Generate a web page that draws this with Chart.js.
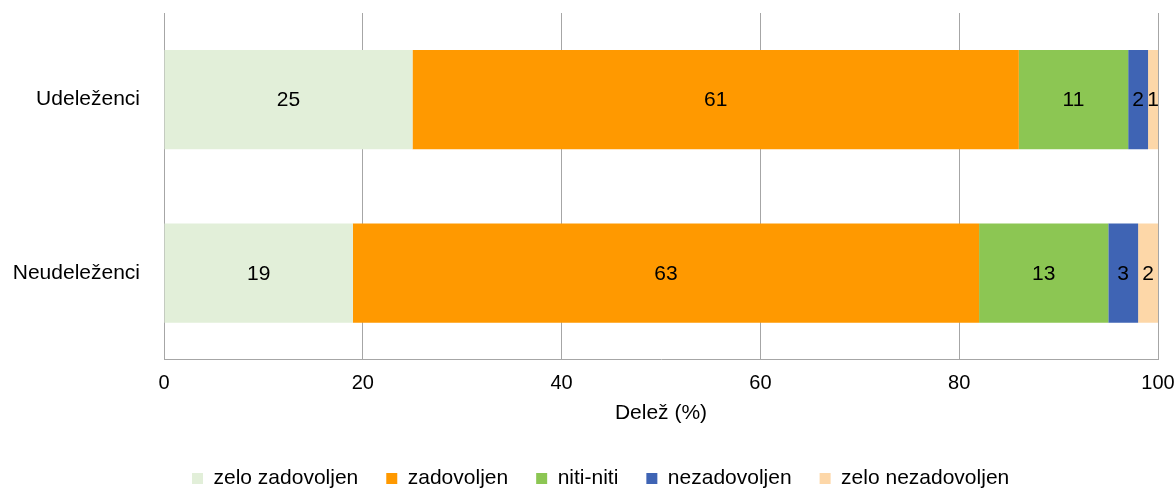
<!DOCTYPE html>
<html>
<head>
<meta charset="utf-8">
<script src="https://cdn.jsdelivr.net/npm/chart.js@4.4.1/dist/chart.umd.min.js"></script>
<style>
  html, body { margin: 0; padding: 0; background: #ffffff; }
  #wrap { width: 1176px; height: 489px; }
</style>
</head>
<body>
<div id="wrap"><canvas id="c" width="1176" height="489"></canvas></div>
<script>
// Satisfaction shares (%) by group
const categories = ['Udeleženci', 'Neudeleženci'];
const seriesNames = ['zelo zadovoljen', 'zadovoljen', 'niti-niti', 'nezadovoljen', 'zelo nezadovoljen'];
const zeloZadovoljen = [25, 19];
const zadovoljen = [61, 63];
const nitiNiti = [11, 13];
const nezadovoljen = [2, 3];
const zeloNezadovoljen = [1, 2];
const xTicks = [0, 20, 40, 60, 80, 100];
const xTitle = 'Delež (%)';

const seriesValues = [zeloZadovoljen, zadovoljen, nitiNiti, nezadovoljen, zeloNezadovoljen];
const seriesColors = ['#E2EFD9', '#FF9900', '#8CC653', '#3F64B4', '#FDD7A8'];

const FONT = "'Liberation Sans', Arial, sans-serif";
const GRID = '#A6A6A6';

// Writes each segment's value in the middle of its bar
const valueLabels = {
  id: 'valueLabels',
  afterDatasetsDraw(chart) {
    const ctx = chart.ctx;
    ctx.save();
    ctx.font = '21px ' + FONT;
    ctx.fillStyle = '#000000';
    ctx.textAlign = 'center';
    ctx.textBaseline = 'middle';
    chart.data.datasets.forEach((ds, i) => {
      const meta = chart.getDatasetMeta(i);
      meta.data.forEach((bar, j) => {
        const p = bar.getCenterPoint();
        ctx.fillText(String(ds.data[j]), p.x, p.y + 1);
      });
    });
    ctx.restore();
  }
};

new Chart(document.getElementById('c'), {
  type: 'bar',
  data: {
    labels: categories,
    datasets: seriesNames.map((name, i) => ({
      label: name,
      data: seriesValues[i],
      backgroundColor: seriesColors[i],
      borderWidth: 0,
      categoryPercentage: 0.572,
      barPercentage: 1
    }))
  },
  options: {
    indexAxis: 'y',
    responsive: false,
    animation: false,
    layout: { padding: { top: 13, right: 18, bottom: -10, left: 0 } },
    scales: {
      x: {
        stacked: true,
        min: 0,
        max: 100,
        afterBuildTicks(axis) { axis.ticks = xTicks.map(v => ({ value: v })); },
        afterFit(axis) { axis.paddingLeft = 0; axis.paddingRight = 0; },
        grid: { color: GRID, lineWidth: 1, drawTicks: false },
        border: { color: GRID, width: 1 },
        ticks: { font: { family: FONT, size: 20 }, color: '#000000', padding: 12, maxRotation: 0 },
        title: { display: true, text: xTitle, font: { family: FONT, size: 21 }, color: '#000000', padding: { top: -7, bottom: 14 } }
      },
      y: {
        stacked: true,
        afterFit(axis) { axis.width = 164; axis.paddingTop = 0; axis.paddingBottom = 0; },
        grid: { display: false, drawTicks: false },
        border: { color: GRID, width: 1 },
        ticks: { font: { family: FONT, size: 21 }, color: '#000000', padding: 24 }
      }
    },
    plugins: {
      legend: {
        position: 'bottom',
        fullSize: false,
        align: 'start',
        labels: {
          font: { family: FONT, size: 21 },
          color: '#000000',
          boxWidth: 11,
          boxHeight: 11,
          padding: 28
        }
      },
      tooltip: { enabled: false }
    }
  },
  plugins: [valueLabels]
});
</script>
</body>
</html>
